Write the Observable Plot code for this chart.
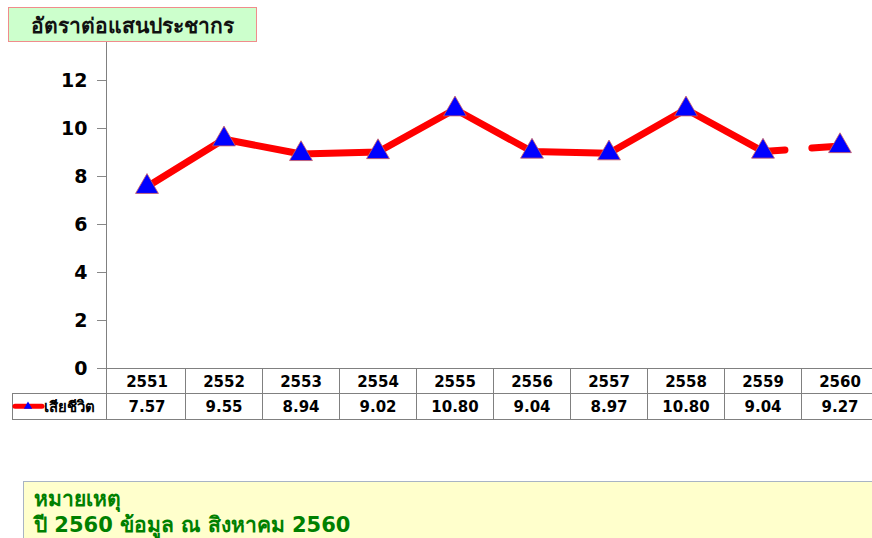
<!DOCTYPE html>
<html>
<head>
<meta charset="utf-8">
<script src="https://cdn.jsdelivr.net/npm/d3@7"></script>
<script src="https://cdn.jsdelivr.net/npm/@observablehq/plot@0.6"></script>
<style>
  body { margin: 0; background: #fff; width: 872px; height: 538px; overflow: hidden; position: relative; font-family: Tahoma, "DejaVu Sans", "Noto Sans", sans-serif; }
  #chart { position: absolute; left: 0; top: 0; }
  #title { position: absolute; left: 8px; top: 7px; width: 247px; height: 33px; background: #ccffcc; border: 1.5px solid #f08c8c; font-weight: bold; font-size: 21px; line-height: 37px; text-align: center; color: #111; box-sizing: content-box; white-space: nowrap; overflow: hidden; }
  #note { position: absolute; left: 23px; top: 481px; width: 860px; height: 70px; background: #ffffcc; border: 1px solid #a8b4c4; color: #008000; font-weight: bold; font-size: 21px; line-height: 26px; padding: 4px 0 0 10px; }
</style>
</head>
<body>
<div id="chart"></div>
<div id="title"></div>
<div id="note"></div>
<script>
const titleText = "อัตราต่อแสนประชากร";
const years = ["2551","2552","2553","2554","2555","2556","2557","2558","2559","2560"];
const rates = [7.57, 9.55, 8.94, 9.02, 10.80, 9.04, 8.97, 10.80, 9.04, 9.27];
const rateLabels = ["7.57","9.55","8.94","9.02","10.80","9.04","8.97","10.80","9.04","9.27"];
const seriesName = "เสียชีวิต";
const yTicks = [0, 2, 4, 6, 8, 10, 12];
const noteLines = ["หมายเหตุ", "ปี 2560 ข้อมูล ณ สิงหาคม 2560"];

document.getElementById("title").textContent = titleText;
document.getElementById("note").innerHTML = noteLines.map(s => `<div>${s}</div>`).join("");

const data = years.map((y, i) => ({year: y, rate: rates[i], label: rateLabels[i]}));
const solid = data.slice(0, 9);
const dashed = data.slice(8);

const plot = Plot.plot({
  width: 872,
  height: 425,
  marginLeft: 106,
  marginRight: 0,
  marginTop: 44,
  marginBottom: 57,
  style: { fontFamily: "'DejaVu Sans', Verdana, sans-serif", fontSize: "17px", fontWeight: "bold", color: "#000", background: "transparent", overflow: "visible" },
  x: { type: "band", domain: years, padding: 0, range: [106, 879], axis: null },
  y: { domain: [0, 13.5], axis: null },
  marks: [
    Plot.axisY({ ticks: yTicks, tickSize: 9, tickPadding: 10, stroke: "#888", fill: "#000", fontSize: 19, fontWeight: "bold", label: null }),
    Plot.line(solid, { x: "year", y: "rate", stroke: "#ff0000", strokeWidth: 7, strokeLinejoin: "round", strokeLinecap: "round" }),
    Plot.line(dashed, { x: "year", y: "rate", stroke: "#ff0000", strokeWidth: 7, strokeLinecap: "round", strokeDasharray: "22,27" }),
    Plot.dot(data, { x: "year", y: "rate", symbol: "triangle", r: 8.5, fill: "#0000ff", stroke: "#d06060", strokeWidth: 0.8 }),
    Plot.text(data, { x: "year", text: "year", frameAnchor: "bottom", lineAnchor: "middle", dy: 13.5, fontSize: 15, fontWeight: "bold", fill: "#000" }),
    Plot.text(data, { x: "year", text: "label", frameAnchor: "bottom", lineAnchor: "middle", dy: 39, fontSize: 15, fontWeight: "bold", fill: "#000" })
  ]
});
document.getElementById("chart").appendChild(plot);

// table grid and axis line via the plot's scales
const xs = plot.scale("x");
const ys = plot.scale("y");
const svg = d3.select(plot);
const g = svg.append("g").attr("stroke", "#808080").attr("stroke-width", 1).attr("fill", "none").attr("shape-rendering", "crispEdges");
const y0 = ys.apply(0);
const yTop = ys.apply(13.5) - 2;
const row1 = y0 + 25.5, row2 = y0 + 51;
const left = xs.range[0];
const right = xs.range[1];
g.append("line").attr("x1", left).attr("x2", left).attr("y1", yTop).attr("y2", row2);
g.append("line").attr("x1", left).attr("x2", right).attr("y1", y0).attr("y2", y0);
g.append("line").attr("x1", 12).attr("x2", right).attr("y1", row1).attr("y2", row1);
g.append("line").attr("x1", 12).attr("x2", right).attr("y1", row2).attr("y2", row2);
g.append("line").attr("x1", 12).attr("x2", 12).attr("y1", row1).attr("y2", row2);
years.forEach(yr => {
  const xe = xs.apply(yr) + xs.bandwidth;
  g.append("line").attr("x1", xe).attr("x2", xe).attr("y1", y0).attr("y2", row2);
});
// legend key in table
const ly = (row1 + row2) / 2;
svg.append("line").attr("x1", 15).attr("x2", 42).attr("y1", ly).attr("y2", ly).attr("stroke", "#ff0000").attr("stroke-width", 5).attr("stroke-linecap", "round");
svg.append("path").attr("d", d3.symbol(d3.symbolTriangle, 30)()).attr("transform", `translate(28,${ly})`).attr("fill", "#0000ff");
svg.append("text").attr("x", 44).attr("y", ly).attr("dy", "0.35em").attr("text-anchor", "start").attr("font-size", 15).attr("font-weight", "bold").attr("font-family", "Tahoma, 'DejaVu Sans', sans-serif").attr("fill", "#000").text(seriesName);
</script>
</body>
</html>
